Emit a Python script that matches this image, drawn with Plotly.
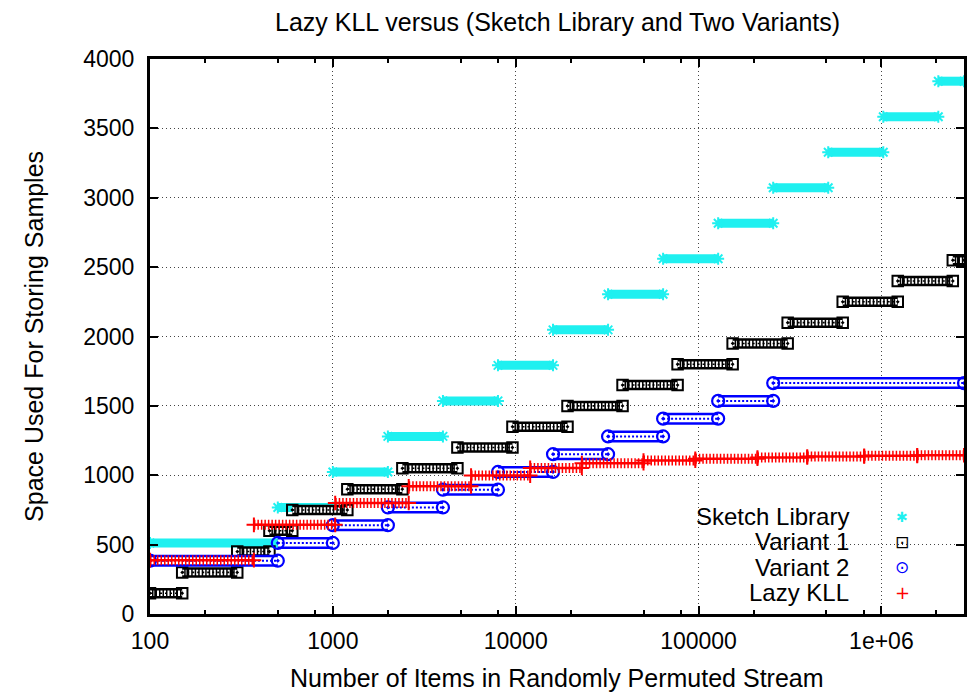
import math
import plotly.graph_objects as go

# ---------------- data ----------------
N_MAX = 2830000  # last item count shown on the x axis

# Sketch Library
sl_starts = [100, 500, 1000, 2000, 4000, 8000, 16000, 32000, 64000, 128000,
             256000, 512000, 1024000, 2048000]
sl_levels = [512, 768, 1024, 1280, 1536, 1792, 2048, 2304, 2560, 2816,
             3072, 3328, 3584, 3840]

# Variant 1
v1_starts = [100, 150, 300, 450, 600, 1200, 2400, 4800, 9600, 19200, 38400,
             76800, 153600, 307200, 614400, 1228800, 2457600]
v1_levels = [150, 300, 450, 600, 750, 900, 1050, 1200, 1350, 1500, 1650,
             1800, 1950, 2100, 2250, 2400, 2550]

# Variant 2
v2_starts = [100, 500, 1000, 2000, 4000, 8000, 16000, 32000, 64000, 128000, 256000]
v2_levels = [384, 512, 640, 768, 896, 1024, 1152, 1280, 1408, 1536, 1664]

# Lazy KLL
lk_starts = [100, 370, 1030, 2600, 5700, 12000, 23000, 50000, 96000, 210000,
             393000, 805000, 1570000]
lk_levels = [388, 643, 800, 920, 998, 1053, 1087, 1106, 1119, 1128,
             1135, 1140, 1144]

x_tickvals = [100, 1000, 10000, 100000, 1000000]
x_ticktext = ["100", "1000", "10000", "100000", "1e+06"]
x_minor = [200, 500, 800, 2000, 5000, 8000, 20000, 50000, 80000,
           200000, 500000, 800000, 2000000]
y_tickvals = [0, 500, 1000, 1500, 2000, 2500, 3000, 3500, 4000]

labels = ["Sketch Library", "Variant 1", "Variant 2", "Lazy KLL"]

# ---------------- helpers ----------------
CYAN, BLACK, BLUE, RED = "#1ff0f0", "#000000", "#0000ff", "#ff0000"
FONT = "Liberation Sans, Arial, Helvetica, sans-serif"
TXT = 25
KEY = 24
TICK = 23


def segments(starts, levels, end):
    ends = starts[1:] + [end]
    xs, ys, mx, my = [], [], [], []
    for s, e, v in zip(starts, ends, levels):
        xs += [s, e, None]
        ys += [v, v, None]
        mx += [s, e]
        my += [v, v]
    return xs, ys, mx, my


def band(fig, xs, ys, color, width, dash="solid"):
    fig.add_trace(go.Scatter(x=xs, y=ys, mode="lines", hoverinfo="skip",
                             line=dict(color=color, width=width, dash=dash),
                             showlegend=False))


def ends(fig, mx, my, symbol, color, size, lw):
    fig.add_trace(go.Scatter(x=mx, y=my, mode="markers", hoverinfo="skip",
                             marker=dict(symbol=symbol, size=size, color=color,
                                         line=dict(color=color, width=lw)),
                             showlegend=False))


fig = go.Figure()

# Sketch Library (cyan asterisks)
xs, ys, mx, my = segments(sl_starts, sl_levels, N_MAX)
band(fig, xs, ys, CYAN, 9)
ends(fig, mx, my, "asterisk-open", CYAN, 10, 2)

# Variant 1 (black boxes with dot) - dense boxes form a dark band
xs, ys, mx, my = segments(v1_starts, v1_levels, N_MAX)
band(fig, xs, ys, BLACK, 10.5)
band(fig, xs, ys, "white", 5.5, "2px,1.5px")
band(fig, xs, ys, BLACK, 1.6, "2px,3px")
ends(fig, mx, my, "square-open-dot", BLACK, 10.5, 2)

# Variant 2 (blue circles with dot)
xs, ys, mx, my = segments(v2_starts, v2_levels, N_MAX)
band(fig, xs, ys, BLUE, 12)
band(fig, xs, ys, "white", 7)
band(fig, xs, ys, BLUE, 2, "2px,2px")
ends(fig, mx, my, "circle-open-dot", BLUE, 12, 2.2)

# Lazy KLL (red plus signs)
xs, ys, mx, my = segments(lk_starts, lk_levels, N_MAX)
band(fig, xs, ys, RED, 10, "1.5px,2px")
band(fig, xs, ys, RED, 2.5)
ends(fig, mx, my, "cross-thin-open", RED, 10.5, 2)

axis_common = dict(
    ticks="inside", ticklen=8, tickwidth=2, tickcolor="black",
    showline=True, linewidth=3, linecolor="black", mirror="ticks",
    showgrid=True, gridcolor="#444444", gridwidth=1, griddash="1px,3px",
    zeroline=False, tickfont=dict(family=FONT, size=TICK, color="black"),
)

fig.update_xaxes(type="log", range=[2, math.log10(N_MAX)],
                 tickmode="array", tickvals=x_tickvals, ticktext=x_ticktext,
                 ticklabelstandoff=4,
                 minor=dict(tickmode="array", tickvals=x_minor, ticks="inside",
                            ticklen=4, tickwidth=2, tickcolor="black",
                            showgrid=False),
                 **axis_common)
fig.update_yaxes(range=[0, 4000], tickmode="array", tickvals=y_tickvals,
                 ticklabelstandoff=8, **axis_common)

L, R, T, B = 150, 12, 59, 80
W, H = 979, 694
pw, ph = W - L - R, H - T - B


def px(x):
    return (x - L) / pw


def py(y):
    return (H - B - y) / ph


# opaque key area (gnuplot draws the key over the grid)
fig.add_shape(type="rect", xref="paper", yref="paper",
              x0=px(640), x1=px(957), y0=0.0, y1=py(503),
              fillcolor="white", line=dict(width=0), layer="between")

annos = []
annos.append(dict(text="Lazy KLL versus (Sketch Library and Two Variants)",
                  x=0.5, y=py(22), xref="paper", yref="paper",
                  xanchor="center", yanchor="middle", showarrow=False,
                  font=dict(family=FONT, size=TXT, color="black")))
annos.append(dict(text="Number of Items in Randomly Permuted Stream",
                  x=0.5, y=py(678), xref="paper", yref="paper",
                  xanchor="center", yanchor="middle", showarrow=False,
                  font=dict(family=FONT, size=TXT, color="black")))
annos.append(dict(text="Space Used For Storing Samples",
                  x=px(33), y=0.5, xref="paper", yref="paper", textangle=-90,
                  xanchor="center", yanchor="middle", showarrow=False,
                  font=dict(family=FONT, size=TXT, color="black")))

key_rows = [516.7, 541.7, 567.3, 592.7]
key_glyphs = ["\u2731", "\u22a1", "\u2299", "+"]
key_colors = [CYAN, BLACK, BLUE, RED]
key_sizes = [14, 17, 17, 18]
for lab, row, g, c, s in zip(labels, key_rows, key_glyphs, key_colors, key_sizes):
    annos.append(dict(text=lab, x=px(854), y=py(row), xref="paper", yref="paper",
                      xanchor="right", yanchor="middle", showarrow=False,
                      font=dict(family=FONT, size=KEY, color="black")))
    annos.append(dict(text=g, x=px(905), y=py(row), xref="paper", yref="paper",
                      xanchor="center", yanchor="middle", showarrow=False,
                      font=dict(family="DejaVu Sans", size=s, color=c)))

fig.update_layout(width=W, height=H, margin=dict(l=L, r=R, t=T, b=B),
                  plot_bgcolor="white", paper_bgcolor="white",
                  showlegend=False, annotations=annos,
                  font=dict(family=FONT, size=TXT, color="black"))

fig.write_html("out.html",
               config={"displayModeBar": False},
               post_script="document.body.style.margin='0';"
                           "document.body.style.padding='0';")
